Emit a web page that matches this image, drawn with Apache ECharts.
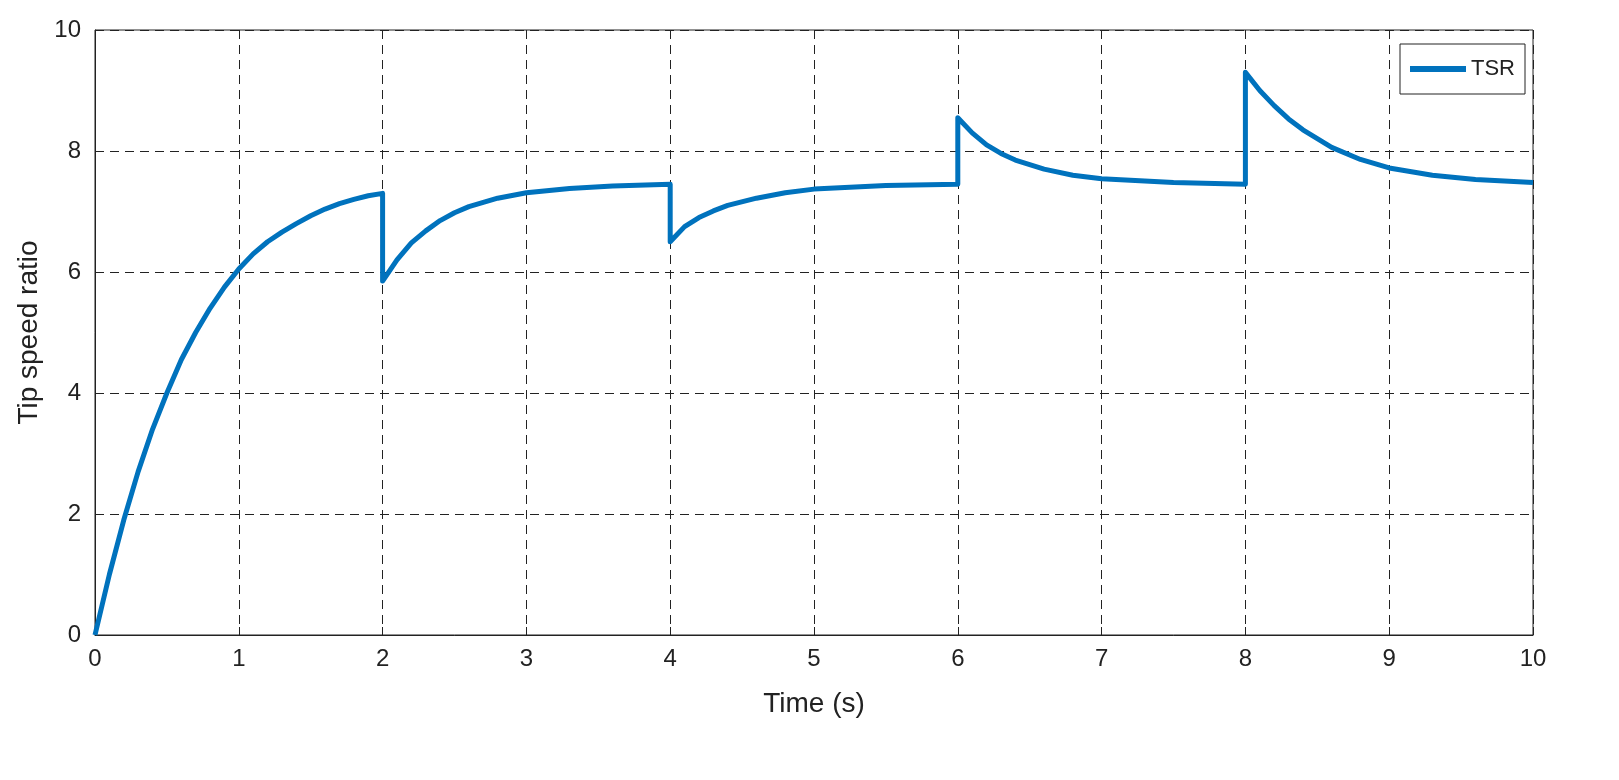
<!DOCTYPE html>
<html>
<head>
<meta charset="utf-8">
<script src="https://cdn.jsdelivr.net/npm/echarts@6/dist/echarts.min.js"></script>
<style>html,body{margin:0;padding:0;background:#fff}#main{width:1619px;height:780px}</style>
</head>
<body>
<div id="main"></div>
<script>
// time (s) and tip speed ratio
var times = [0,0.1,0.2,0.3,0.4,0.5,0.6,0.7,0.8,0.9,1.0,1.1,1.2,1.3,1.4,1.5,1.6,1.7,1.8,1.9,2.0,
  2.0,2.1,2.2,2.3,2.4,2.5,2.6,2.8,3.0,3.3,3.6,4.0,
  4.0,4.1,4.2,4.3,4.4,4.6,4.8,5.0,5.5,6.0,
  6.0,6.1,6.2,6.3,6.4,6.6,6.8,7.0,7.5,8.0,
  8.0,8.1,8.2,8.3,8.4,8.6,8.8,9.0,9.3,9.6,10];
var tsr = [0,1.0,1.9,2.7,3.4,4.0,4.55,5.0,5.4,5.75,6.05,6.3,6.5,6.66,6.8,6.93,7.04,7.13,7.2,7.26,7.3,
  5.85,6.2,6.48,6.68,6.85,6.98,7.08,7.22,7.31,7.38,7.42,7.45,
  6.5,6.75,6.9,7.01,7.1,7.22,7.31,7.37,7.43,7.45,
  8.55,8.3,8.1,7.96,7.85,7.7,7.6,7.54,7.48,7.45,
  9.3,9.0,8.75,8.53,8.35,8.06,7.86,7.72,7.6,7.53,7.48];

var data = [];
for (var i = 0; i < times.length; i++) data.push([times[i], tsr[i]]);

var font = 'Liberation Sans, Arial, sans-serif';
var gridLine = {show: true, lineStyle: {color: '#222', type: [9, 6], width: 1}};

var chart = echarts.init(document.getElementById('main'));
chart.setOption({
  animation: false,
  grid: {left: 95, right: 86, top: 30, bottom: 145, show: true, borderColor: '#222', borderWidth: 1},
  legend: {
    right: 94, top: 44, itemWidth: 56, itemHeight: 6, itemGap: 6,
    borderColor: '#222', borderWidth: 1, borderRadius: 0, padding: [14, 10],
    backgroundColor: '#fff',
    textStyle: {fontFamily: font, fontSize: 22, color: '#222'},
    data: [{name: 'TSR', icon: 'rect'}]
  },
  xAxis: {
    type: 'value', min: 0, max: 10, interval: 1,
    name: 'Time (s)', nameLocation: 'middle', nameGap: 55,
    nameTextStyle: {fontFamily: font, fontSize: 28, color: '#222'},
    axisLine: {lineStyle: {color: '#222'}},
    axisTick: {show: true, inside: true, length: 8, lineStyle: {color: '#222'}},
    axisLabel: {fontFamily: font, fontSize: 24, color: '#222', margin: 12},
    splitLine: gridLine
  },
  yAxis: {
    type: 'value', min: 0, max: 10, interval: 2,
    name: 'Tip speed ratio', nameLocation: 'middle', nameGap: 52,
    nameTextStyle: {fontFamily: font, fontSize: 28, color: '#222'},
    axisLine: {show: true, lineStyle: {color: '#222'}},
    axisTick: {show: true, inside: true, length: 8, lineStyle: {color: '#222'}},
    axisLabel: {fontFamily: font, fontSize: 24, color: '#222', margin: 14},
    splitLine: gridLine
  },
  series: [{
    name: 'TSR', type: 'line', data: data, showSymbol: false,
    lineStyle: {color: '#0072BD', width: 5, join: 'round'}, itemStyle: {color: '#0072BD'}
  }]
});
</script>
</body>
</html>
